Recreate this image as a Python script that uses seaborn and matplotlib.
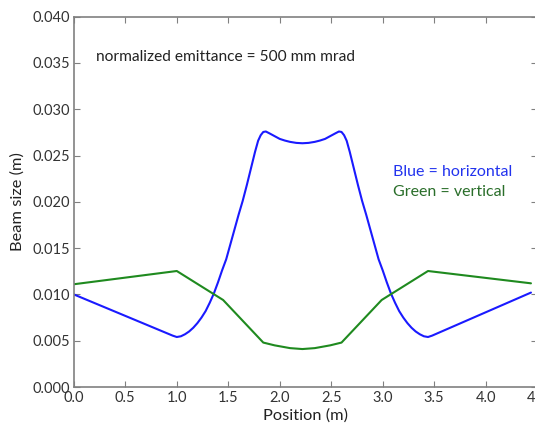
import matplotlib
matplotlib.use("Agg")
import matplotlib.pyplot as plt
import seaborn as sns

# Horizontal (blue) beam size vs position
pos_h = [0.0, 0.96, 1.0, 1.04, 1.08, 1.12, 1.16, 1.20, 1.24, 1.28, 1.32, 1.36,
         1.40, 1.44, 1.48, 1.52, 1.56, 1.60, 1.64, 1.68, 1.72, 1.76, 1.79, 1.815,
         1.84, 1.865, 1.90, 1.95, 2.00, 2.05, 2.10, 2.16, 2.22, 2.28, 2.34, 2.39,
         2.44, 2.49, 2.54, 2.575, 2.60, 2.625, 2.65, 2.68, 2.72, 2.76, 2.80, 2.84,
         2.88, 2.92, 2.96, 3.00, 3.04, 3.08, 3.12, 3.16, 3.20, 3.24, 3.28, 3.32,
         3.36, 3.40, 3.44, 3.48, 4.44]
size_h = [0.0100, 0.00555, 0.0054, 0.00548, 0.0057, 0.0060, 0.0064, 0.0069, 0.0075,
          0.0082, 0.0091, 0.0101, 0.0113, 0.0126, 0.0138, 0.0154, 0.0170, 0.0186,
          0.0201, 0.0218, 0.0236, 0.0254, 0.0266, 0.0272, 0.02755, 0.0276, 0.0274,
          0.0271, 0.0268, 0.02662, 0.02648, 0.02637, 0.02633, 0.02637, 0.02648,
          0.02662, 0.0268, 0.0271, 0.0274, 0.0276, 0.02755, 0.0272, 0.0266, 0.0254,
          0.0236, 0.0218, 0.0201, 0.0186, 0.0170, 0.0154, 0.0138, 0.0126, 0.0113,
          0.0101, 0.0091, 0.0082, 0.0075, 0.0069, 0.0064, 0.0060, 0.0057, 0.00548,
          0.0054, 0.00555, 0.0102]

# Vertical (green) beam size vs position
pos_v = [0.0, 1.0, 1.45, 1.84, 1.95, 2.1, 2.22, 2.34, 2.49, 2.6, 2.99, 3.44, 4.44]
size_v = [0.0111, 0.01253, 0.0094, 0.0048, 0.0045, 0.0042, 0.0041, 0.0042, 0.0045,
          0.0048, 0.0094, 0.01253, 0.0112]

x_ticks = [0.0, 0.5, 1.0, 1.5, 2.0, 2.5, 3.0, 3.5, 4.0, 4.5]
y_ticks = [0.000, 0.005, 0.010, 0.015, 0.020, 0.025, 0.030, 0.035, 0.040]

sns.set_style("ticks")
plt.rcParams['font.family'] = ['Lato', 'DejaVu Sans']

fig = plt.figure(figsize=(5.35, 4.25), dpi=100)
ax = fig.add_axes([0.138, 0.0894, 0.866, 0.8713])

sns.lineplot(x=pos_h, y=size_h, color="#1a1aff", linewidth=1.5, sort=False, ax=ax)
sns.lineplot(x=pos_v, y=size_v, color="#1f8a1f", linewidth=1.5, sort=False, ax=ax)

ax.set_xlim(0, 4.5)
ax.set_ylim(0, 0.040)
ax.set_xticks(x_ticks)
ax.set_xticklabels([f"{t:.1f}" for t in x_ticks])
ax.set_yticks(y_ticks)
ax.set_yticklabels([f"{t:.3f}" for t in y_ticks])

for s in ax.spines.values():
    s.set_visible(True)
    s.set_color("#808080")
    s.set_linewidth(1.2)
ax.tick_params(direction="in", top=True, right=True, length=4, width=0.8,
               color="#808080", labelsize=10.5, labelcolor="#333333", pad=3)

ax.set_xlabel("Position (m)", fontsize=11.8, color="#222222", labelpad=2)
ax.set_ylabel("Beam size (m)", fontsize=11.8, color="#222222", labelpad=5)

ax.text(0.22, 0.0356, "normalized emittance = 500 mm mrad", fontsize=11.2,
        color="#222222", va="center", ha="left")
ax.text(3.10, 0.0232, "Blue = horizontal", fontsize=11.5, color="#2233ee",
        va="center", ha="left")
ax.text(3.10, 0.0211, "Green = vertical", fontsize=11.5, color="#2a6e2a",
        va="center", ha="left")

fig.savefig("out.png", dpi=100)
